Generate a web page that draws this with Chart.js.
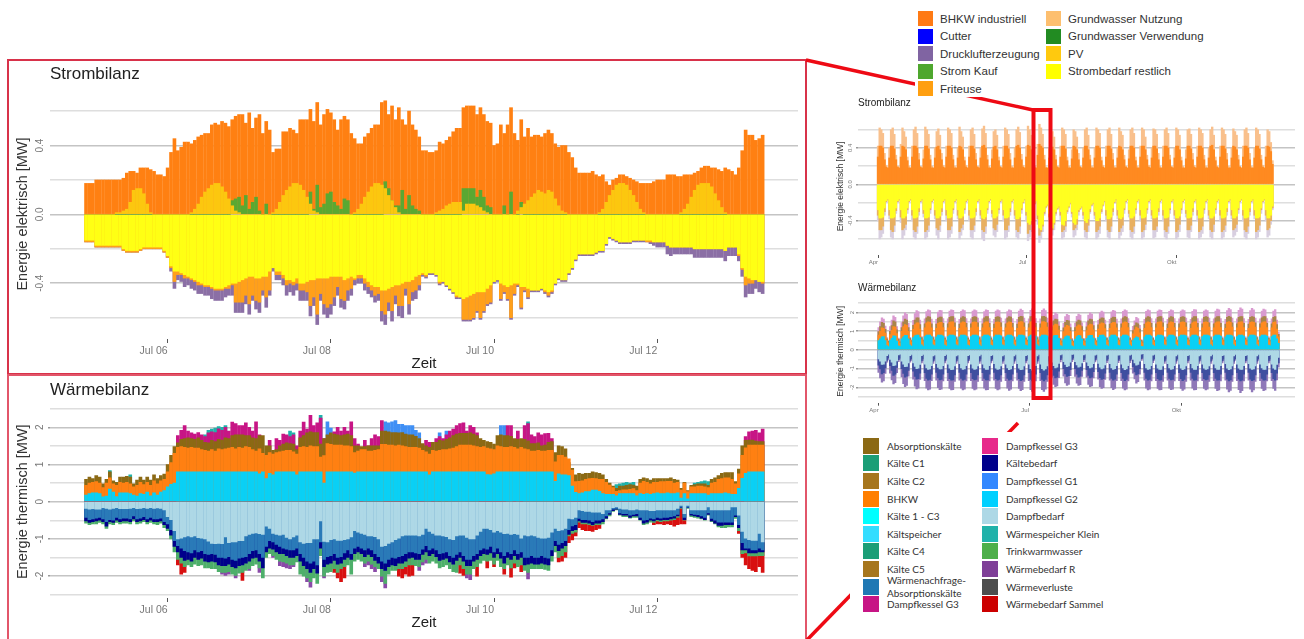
<!DOCTYPE html>
<html lang="de">
<head>
<meta charset="utf-8">
<title>Strombilanz und Wärmebilanz</title>
<script src="https://cdn.jsdelivr.net/npm/chart.js"></script>
<style>
html, body { margin: 0; background: #fff; }
#page { position: relative; width: 1304px; height: 639px; overflow: hidden; filter: blur(.35px); font-family: "Liberation Sans", sans-serif; }
canvas, .frame, svg, .legend { position: absolute; }
.frame { box-sizing: border-box; border: 2px solid #d8324a; }
.legend { background: #fff; display: grid; grid-auto-flow: column; align-items: center; color: #333; }
.legend div { display: flex; align-items: center; white-space: nowrap; }
.legend i { flex: none; display: block; }
#legendStrom { left: 915px; top: 0; width: 292px; height: 97px; box-sizing: border-box; padding: 10px 0 0 3px; grid-template-rows: repeat(5, 17.5px); grid-template-columns: 128px auto; align-content: start; font-size: 11.5px; }
#legendStrom i { width: 15px; height: 15px; margin-right: 7px; }
#legendWaerme { left: 850px; top: 432px; width: 290px; height: 190px; box-sizing: border-box; padding: 5px 0 0 13px; grid-template-rows: repeat(10, 17.6px); grid-template-columns: 119px auto; align-content: start; font-family: Lato, sans-serif; font-size: 10px; }
#legendWaerme i { width: 16px; height: 16px; margin-right: 8px; }
</style>
</head>
<body>
<div id="page">
<div class="frame" style="left:7px;top:59px;width:800px;height:316px"></div>
<div class="frame" style="left:7px;top:374px;width:800px;height:270px;border-color:#e2566a"></div>
<canvas id="mainStrom" width="798" height="314" style="left:8px;top:60px"></canvas>
<canvas id="mainWaerme" width="798" height="263" style="left:8px;top:376px"></canvas>
<canvas id="overStrom" width="470" height="178" style="left:832px;top:92px"></canvas>
<canvas id="overWaerme" width="470" height="139" style="left:832px;top:277px"></canvas>
<svg width="1304" height="639" style="left:0;top:0">
  <g stroke="#ee0a14" fill="none" stroke-width="3.5">
    <line x1="806" y1="60" x2="1033" y2="110"/>
    <rect x="1033.5" y="110" width="17" height="288" stroke-width="4"/>
    <line x1="807" y1="640" x2="1018" y2="423"/>
  </g>
</svg>
<div id="legendStrom" class="legend"></div>
<div id="legendWaerme" class="legend"></div>
</div>
<script>
// all series in 0.01 MW, one row per day (Jul 5 .. Jul 13)
const stromBhkw = [
18,18,18,20,20,20,20,20,20,20,20,21,24,25,25,24,27,27,27,26,25,23,23,22,
27,36,44,37,39,42,42,41,43,45,46,47,47,52,53,52,54,53,51,55,57,58,58,53,
59,50,56,58,47,54,49,36,38,38,48,48,50,49,47,55,55,55,61,54,65,52,58,61,
59,55,49,55,57,55,47,44,41,41,45,47,50,52,52,65,66,58,63,55,62,55,52,60,
52,49,45,37,37,36,36,37,42,41,43,45,48,50,50,62,63,63,63,58,62,58,54,53,
40,41,52,47,52,62,47,43,55,45,50,45,46,46,45,47,49,47,41,39,40,40,36,33,
27,24,24,24,24,25,23,22,23,19,17,20,21,23,23,22,21,20,19,18,18,18,18,19,
20,20,20,23,23,23,22,22,23,23,23,24,25,27,28,28,27,27,26,25,27,26,25,23,
27,37,49,46,46,43,44,46];
const stromKauf = [
0,0,0,0,0,0,0,0,0,0,0,0,0,0,0,0,0,0,0,0,0,0,0,0,
0,0,0,0,0,0,0,0,0,0,0,0,0,0,0,0,0,0,0,8,9,10,5,11,
3,7,10,2,0,6,0,0,0,0,0,0,0,0,0,0,0,0,13,3,17,4,6,12,
13,7,5,3,9,8,0,0,0,0,0,0,0,0,0,0,19,15,8,5,5,14,3,11,
5,3,2,0,0,0,0,0,0,0,0,0,0,0,0,15,15,15,15,10,14,10,5,4,
0,0,0,5,0,13,0,0,7,0,0,0,0,0,0,0,0,0,0,0,0,0,0,0,
0,0,0,0,0,0,0,0,0,0,0,0,0,0,0,0,0,0,0,0,0,0,0,0,
0,0,0,0,0,0,0,0,0,0,0,0,0,0,0,0,0,0,0,0,0,0,0,0,
0,0,0,0,0,0,0,0];
const stromPv = [
0,0,0,0,0,0,0,0,0,1,1,2,3,7,14,15,15,12,6,1,0,0,0,0,
0,0,0,0,0,0,0,1,3,6,10,13,15,17,18,18,16,13,9,5,2,1,0,0,
0,0,0,0,0,0,0,1,3,7,11,14,16,18,18,17,14,10,6,2,1,0,0,0,
0,0,0,0,0,0,0,1,3,6,10,13,16,18,18,17,15,11,8,4,1,0,0,0,
0,0,0,0,0,0,0,1,2,3,5,6,7,7,7,2,6,6,6,5,4,2,1,0,
0,0,0,0,0,0,0,2,4,6,8,10,12,14,13,12,14,13,9,5,2,1,0,0,
0,0,0,0,0,0,0,1,3,7,11,14,17,18,18,17,14,11,7,3,1,0,0,0,
0,0,0,0,0,0,0,1,3,6,10,14,17,18,18,18,16,12,8,4,1,0,0,0,
0,0,0,0,0,0,0,0];
const stromDruckluft = [
16,16,16,19,19,19,19,19,19,19,19,21,22,22,22,22,21,20,20,20,20,20,20,22,
25,33,43,38,39,42,41,43,44,46,46,47,47,49,50,50,50,48,47,47,57,57,57,52,
58,50,55,57,47,54,47,33,38,38,41,47,45,47,44,50,50,50,59,53,64,50,58,60,
58,53,47,54,55,50,47,41,40,40,44,46,48,51,50,62,64,56,62,52,59,60,47,58,
50,49,44,36,37,35,35,36,41,40,42,44,46,49,49,62,62,62,61,57,61,57,53,52,
40,39,50,46,50,61,47,42,55,45,49,45,45,45,44,46,48,46,41,38,39,39,35,32,
27,24,24,24,24,24,23,22,22,18,14,15,16,17,17,17,17,16,16,16,16,16,17,18,
19,19,19,23,24,23,23,23,23,23,23,25,25,25,25,25,25,25,25,25,27,24,24,24,
27,36,48,46,46,43,45,46];
const stromFriteuse = [
16,16,16,19,19,19,19,19,19,19,19,21,22,22,22,22,21,20,20,20,20,20,20,22,
25,31,39,35,35,37,37,38,39,41,41,42,42,43,44,44,44,43,43,41,51,51,51,47,
52,47,50,51,44,48,44,31,35,35,37,41,40,41,40,44,44,45,53,48,58,46,52,54,
52,48,42,49,50,44,43,38,37,37,40,42,44,47,46,56,58,51,56,47,53,53,43,52,
45,44,41,35,36,34,34,35,40,39,41,43,45,48,48,61,61,61,60,56,60,56,52,51,
39,38,49,45,49,60,46,41,54,44,48,44,44,44,43,45,47,45,40,37,38,38,34,31,
26,23,23,23,23,23,22,21,21,17,13,14,15,16,16,16,16,15,15,15,15,16,16,16,
16,16,16,18,19,19,19,19,19,19,19,20,20,20,20,20,20,20,20,20,21,19,19,19,
24,32,41,40,40,38,39,40];
const stromBedarf = [
15,15,15,18,18,18,18,18,18,18,18,20,21,21,21,21,20,19,19,19,19,19,19,21,
24,30,33,33,34,35,36,37,38,39,40,41,41,42,43,43,43,42,41,40,40,39,38,37,
36,36,37,37,36,36,33,31,33,33,35,38,38,39,37,40,40,39,38,38,37,37,37,37,
36,36,36,36,38,37,36,37,35,35,37,39,41,42,42,44,44,43,42,41,41,40,39,39,
38,36,35,34,35,34,34,35,39,39,41,43,45,47,48,49,48,47,46,45,45,45,43,41,
39,38,40,41,42,41,40,40,42,42,43,44,44,44,43,44,45,44,40,37,38,38,34,31,
26,23,23,23,23,23,22,21,21,17,13,14,15,16,16,16,16,15,15,15,15,15,15,16,
16,16,16,18,19,19,19,19,19,19,19,20,20,20,20,20,20,20,20,20,21,19,19,19,
23,31,36,37,38,38,39,39];

const waermeG2 = [
18,22,24,24,22,13,15,34,26,14,24,24,24,22,18,15,22,20,26,16,24,18,26,30,
40,47,50,80,80,80,80,80,80,80,80,80,80,80,80,80,80,80,80,80,80,80,80,80,
80,80,80,75,80,62,76,72,80,80,80,80,80,80,72,80,80,80,80,80,80,80,50,80,
80,80,80,80,80,80,80,77,80,80,80,80,80,80,80,80,80,80,80,80,80,80,80,80,
80,80,80,80,80,72,80,80,80,80,80,80,80,80,80,80,80,80,80,80,80,80,73,72,
75,80,80,80,80,80,80,80,80,80,80,80,80,80,80,80,80,80,55,75,72,72,70,42,
25,22,24,27,27,31,31,28,22,20,20,20,16,22,22,22,22,22,16,22,20,22,20,22,
24,22,22,24,22,22,24,10,22,8,22,22,22,22,22,18,22,22,22,22,24,22,20,20,
36,63,76,80,80,80,80,80];
const waermeBhkw = [
44,50,52,54,50,38,50,64,48,44,52,50,52,48,40,44,52,46,52,44,56,48,56,60,
80,105,130,146,148,146,144,146,144,144,140,138,136,140,136,142,140,142,144,146,142,146,144,148,
146,140,136,142,130,125,132,128,132,134,136,138,138,134,128,146,148,146,150,148,148,120,124,156,
154,152,152,152,150,150,148,132,136,140,140,136,136,138,140,154,154,152,152,150,152,150,148,146,
146,146,144,138,134,128,138,136,138,140,140,142,144,148,152,152,152,152,150,148,146,148,144,142,
140,150,148,146,146,148,146,142,146,142,140,136,136,138,136,136,138,138,107,125,125,120,115,85,
54,55,56,60,62,63,62,60,60,52,45,38,28,30,32,32,33,35,30,50,55,52,48,52,
52,54,54,55,55,50,52,31,50,27,40,40,42,42,40,38,50,52,60,62,64,64,60,48,
75,125,145,152,152,152,152,152];
const waermeAbsorption = [
60,66,62,70,66,48,60,80,56,52,66,66,68,66,48,58,66,58,66,58,72,62,70,74,
100,125,148,158,168,170,172,170,168,172,165,160,158,165,162,168,166,172,170,178,180,180,180,178,
178,172,170,178,178,150,150,138,140,150,155,158,156,155,140,172,178,185,188,186,186,155,170,180,
185,182,180,178,180,182,178,150,150,148,148,150,150,150,150,190,190,188,186,186,185,186,182,180,
180,176,170,156,150,146,160,160,165,164,168,172,178,182,184,184,184,185,182,178,170,165,162,160,
155,178,180,178,178,176,170,168,170,168,164,156,156,158,150,152,160,162,132,150,148,142,105,90,
72,76,74,76,76,80,78,76,72,60,50,42,36,42,42,44,46,45,42,60,64,62,58,62,
62,62,62,62,64,60,58,36,52,30,44,46,48,48,48,44,60,64,70,76,78,78,78,54,
88,150,165,166,166,163,162,162];
const waermeG3 = [
0,0,0,0,0,0,0,0,0,0,0,0,0,0,0,0,0,0,0,0,0,0,0,0,
0,0,0,178,192,205,190,185,182,186,180,175,185,188,186,196,192,200,190,214,210,205,205,212,
200,190,215,180,0,0,165,0,170,165,182,180,175,180,150,190,214,195,232,205,212,225,170,0,
0,188,200,190,200,190,215,170,155,0,165,150,170,180,175,218,0,0,0,0,0,0,0,0,
0,0,0,0,165,160,0,170,175,170,180,190,195,205,210,212,190,205,200,185,0,0,0,0,
0,0,0,0,205,205,0,190,0,205,210,180,175,185,180,183,184,170,0,0,0,0,0,0,
0,0,0,0,0,0,0,0,0,0,0,0,0,0,0,0,0,0,0,0,0,0,0,0,
0,0,0,0,0,0,0,0,0,0,0,0,0,0,0,0,0,0,0,0,0,0,0,0,
0,0,175,188,190,192,185,195];
const waermeG1 = [
0,0,0,0,0,0,0,0,0,0,0,0,0,0,0,0,0,0,0,0,0,0,0,0,
0,0,0,0,0,0,0,0,0,0,0,0,0,0,0,0,0,0,0,0,0,0,0,0,
0,0,0,0,0,0,0,0,0,0,0,0,0,0,0,0,0,0,0,0,0,0,0,215,
198,0,0,0,0,0,0,0,0,0,0,0,0,0,0,0,215,212,215,218,208,208,205,205,
205,192,185,0,0,0,0,0,185,0,190,0,0,0,0,0,0,0,0,0,0,0,0,0,
0,0,205,205,0,0,0,0,0,0,0,0,0,0,0,0,0,0,0,0,0,0,0,0,
0,0,0,0,0,0,0,0,0,0,0,0,0,0,0,0,0,0,0,0,0,0,0,0,
0,0,0,0,0,0,0,0,0,0,0,0,0,0,0,0,0,0,0,0,0,0,0,0,
0,0,0,0,0,0,0,0];
const waermeSpeicher = [
0,0,0,0,0,0,0,84,0,0,0,0,0,72,0,0,0,0,0,0,0,0,0,0,
0,0,0,0,0,0,0,0,0,0,0,180,192,195,198,202,200,205,0,0,0,0,0,0,
0,0,0,0,0,0,0,0,0,0,0,0,190,185,0,0,0,0,0,0,0,232,0,0,
0,0,0,0,0,0,0,0,0,0,0,0,0,0,0,0,0,0,0,0,0,0,0,0,
0,0,0,0,0,0,0,0,0,0,0,0,0,0,0,0,0,0,0,0,0,0,0,0,
0,0,0,0,0,0,0,0,0,0,215,0,0,0,0,0,0,0,0,0,0,0,0,0,
0,0,0,0,0,0,0,0,0,0,0,0,46,48,50,52,50,52,0,0,0,0,0,0,
0,0,0,0,0,0,0,0,0,0,0,50,52,54,56,54,48,0,0,0,0,0,0,0,
0,0,0,0,0,0,0,0];
const waermeDampfbedarf = [
18,20,19,20,20,16,18,20,18,16,19,19,19,18,16,19,18,16,18,16,18,17,18,22,
40,48,78,100,98,95,92,95,92,97,98,100,106,112,113,112,113,95,110,108,108,105,105,92,
88,85,84,86,88,66,72,85,88,90,88,96,100,95,90,108,112,110,110,100,100,52,107,108,
102,100,104,104,102,100,95,78,82,85,88,92,92,94,100,120,118,112,108,102,98,92,90,90,
90,90,92,88,72,80,85,90,90,92,94,100,102,92,90,90,96,100,100,90,80,72,72,75,
82,78,82,86,85,88,86,88,98,90,92,90,92,96,98,98,96,82,72,78,76,72,45,46,
42,22,24,26,26,28,28,28,32,22,22,16,14,18,20,20,22,22,20,22,22,22,24,24,
22,22,22,22,22,22,18,10,32,10,22,22,22,22,22,14,22,22,22,22,22,22,14,14,
36,80,98,102,104,104,85,108];
const waermeNachfrage = [
42,48,46,44,42,46,54,48,50,42,46,44,44,46,38,46,44,40,46,42,46,46,44,54,
60,75,105,118,125,132,135,138,130,135,132,140,142,140,142,150,150,152,148,155,158,152,150,148,
140,132,130,140,150,120,105,108,115,120,125,128,130,130,125,140,150,160,165,160,170,108,155,148,
145,140,150,148,138,130,140,125,120,125,130,125,130,140,148,160,165,155,150,152,148,145,140,135,
135,138,140,128,118,130,125,130,140,138,135,145,150,142,135,145,155,155,145,140,130,125,128,120,
135,125,135,145,135,140,130,140,135,150,150,145,150,150,145,150,152,130,105,115,110,105,75,65,
62,45,48,48,50,54,50,50,46,38,30,20,18,30,32,32,36,34,32,42,50,48,44,46,
42,44,42,42,40,38,34,15,42,15,32,34,35,38,42,30,45,50,55,55,55,55,55,36,
62,110,125,125,130,130,125,130];
const waermeKaelte = [
52,56,54,52,50,54,66,54,56,50,54,52,52,54,46,54,52,48,54,50,54,54,52,62,
72,90,120,135,150,158,155,160,150,155,152,160,162,160,162,170,172,172,168,175,178,172,170,165,
160,152,150,160,178,135,125,128,135,140,140,145,150,150,145,160,172,180,190,180,192,125,175,168,
165,158,168,165,155,150,155,140,135,140,148,142,148,158,165,180,185,175,170,172,165,165,160,152,
150,155,155,142,135,145,140,148,158,155,152,162,168,158,150,160,172,172,160,155,145,140,142,138,
150,140,152,165,150,155,145,155,150,170,168,165,168,168,165,168,170,145,118,132,125,118,88,78,
75,52,56,56,58,62,58,58,54,44,34,24,20,34,36,36,42,38,38,48,58,55,50,52,
48,50,48,48,46,44,38,16,48,16,36,38,40,44,48,34,52,58,64,64,62,62,62,40,
70,130,130,138,138,138,135,135];
const waermeTrink = [
58,62,60,60,56,60,72,60,62,56,60,58,58,60,52,60,58,54,60,56,60,62,58,70,
78,100,135,155,165,175,170,175,168,172,170,178,178,180,180,188,190,190,188,195,198,192,190,185,
180,172,168,178,205,150,140,145,155,160,162,165,170,170,162,195,200,205,215,205,220,145,200,190,
188,180,190,180,175,170,195,160,155,160,165,160,168,175,180,200,220,195,185,185,180,180,175,170,
170,172,175,162,155,165,160,165,178,175,170,180,188,190,170,180,195,195,180,175,165,158,160,158,
168,158,175,180,170,178,165,175,170,185,190,180,180,180,180,182,185,160,135,150,145,135,92,85,
82,55,60,60,62,64,62,62,60,46,38,26,22,36,40,40,44,42,42,50,62,60,55,56,
52,54,52,52,50,48,42,18,50,18,40,42,44,46,50,36,54,60,68,70,70,68,68,45,
78,140,138,146,146,146,145,145];
const waermeSammel = [
0,0,0,0,0,0,0,0,0,0,0,0,0,0,0,0,0,0,0,0,0,0,0,0,
0,0,0,170,195,190,0,0,0,0,0,0,0,0,0,0,0,0,0,0,0,0,212,0,
0,0,0,0,0,0,0,0,0,0,0,0,0,0,0,0,0,0,0,0,0,0,0,0,
0,190,205,215,205,0,0,0,0,0,0,0,0,0,0,0,0,0,0,0,200,205,195,200,
198,0,0,0,0,0,0,0,0,0,0,0,0,0,192,198,0,0,0,200,0,0,178,0,
175,0,0,195,0,203,178,0,188,0,0,0,0,0,0,0,0,0,0,162,160,150,110,103,
92,70,75,78,78,80,75,72,0,0,0,0,0,0,0,0,0,0,0,0,0,0,0,62,
60,60,62,60,62,66,62,60,60,0,0,0,0,0,0,0,0,0,0,0,0,0,0,0,
85,150,170,180,185,188,175,190];
const waermeR = [
0,0,0,0,0,0,0,0,0,0,0,0,0,0,0,0,0,0,0,0,0,0,0,0,
0,0,0,0,0,0,0,0,0,0,0,0,0,0,0,0,195,198,195,0,205,0,0,0,
185,0,0,190,0,0,0,150,0,172,175,178,180,175,0,0,0,215,230,0,0,0,205,0,
0,0,0,0,0,0,0,0,0,0,175,170,180,188,0,215,232,0,0,0,0,0,0,0,
0,0,185,170,165,0,0,0,0,0,0,0,0,0,0,0,205,210,0,0,0,0,0,0,
0,0,0,0,0,0,0,0,0,0,208,0,0,0,0,0,0,0,0,0,0,0,0,0,
0,0,0,0,0,0,0,0,0,0,0,0,0,0,0,0,0,0,0,0,0,0,0,0,
0,0,0,0,0,0,0,0,0,0,0,0,0,0,0,0,0,0,0,0,0,0,0,0,
0,0,0,0,0,0,0,0];

// year overview, one value per day from Apr 1, one row per week
const jahrStromSpitze = [
42,62,60,56,34,21,18, 40,60,62,55,32,20,18, 44,62,58,52,30,20,18, 42,60,63,56,34,20,18,
38,63,60,55,32,20,18, 40,58,61,54,34,21,18, 42,62,60,56,32,20,18, 40,63,58,52,30,21,18,
42,60,62,55,34,20,18, 40,61,64,56,32,20,18, 38,58,60,54,30,20,18, 42,62,60,55,34,20,18,
40,60,63,57,33,21,18, 42,64,60,54,30,20,18, 44,66,62,55,32,19,18, 40,60,58,52,32,20,18,
42,62,60,55,30,20,18, 38,60,58,52,34,20,18, 40,60,62,54,32,20,18, 40,62,60,56,30,21,18,
42,60,62,55,34,20,18, 40,62,58,54,32,20,18, 38,60,62,56,30,20,18, 42,62,60,52,32,21,18,
40,61,60,55,34,20,18, 42,60,62,56,32,20,18, 40,62,60,54,30,20,18, 38,60,61,55,34,21,18,
42,62,60,56,32,20,18, 40,60,63,54,30,20,18, 42,62,60,55,34,20,18, 40,61,58,54,32,20,18,
42,60,62,56,34,20,18, 40,62,60,55,32,21,18, 42,60,58,46,26];
const jahrStromKern = [
30,42,42,40,27,19,18, 29,42,42,39,27,19,18, 30,42,41,38,26,18,18, 30,42,42,40,27,19,18,
28,42,42,39,27,18,18, 29,41,42,38,27,19,18, 30,42,42,40,27,18,18, 29,42,41,38,26,19,18,
30,42,42,39,27,19,18, 29,42,43,40,27,18,18, 28,41,42,38,26,19,18, 30,42,42,39,27,18,18,
29,42,43,40,27,19,18, 30,43,42,38,26,18,18, 32,44,42,40,27,18,18, 29,42,41,38,27,19,18,
30,42,42,39,26,18,18, 28,42,41,38,27,19,18, 29,42,42,38,27,18,18, 29,42,42,40,26,19,18,
30,42,42,39,27,18,18, 29,42,41,38,27,19,18, 28,42,42,40,26,18,18, 30,42,42,38,27,19,18,
29,42,42,39,27,18,18, 30,42,42,40,27,19,18, 29,42,42,38,26,18,18, 28,42,42,39,27,19,18,
30,42,42,40,27,18,18, 29,42,43,38,26,19,18, 30,42,42,39,27,18,18, 29,42,41,38,27,19,18,
30,42,42,40,27,18,18, 29,42,42,39,27,19,18, 30,42,41,36,22];
const jahrStromBedarf = [
28,37,37,36,26,18,16, 28,37,37,36,26,18,16, 28,37,37,35,26,18,16, 28,37,37,36,26,18,16,
28,37,37,36,26,18,16, 28,37,37,35,26,18,16, 28,37,37,36,26,18,16, 28,37,37,35,26,18,16,
28,37,37,36,26,18,16, 28,37,38,36,26,18,16, 28,37,37,35,26,18,16, 28,37,37,36,26,18,16,
28,38,38,36,26,19,16, 30,42,44,40,28,20,18, 34,48,50,44,30,24,22, 32,46,48,42,30,26,24,
30,44,45,40,28,24,20, 30,42,44,38,28,26,24, 30,40,42,38,27,22,20, 30,40,40,37,27,22,18,
28,38,38,36,26,19,16, 28,37,38,36,26,18,16, 28,37,37,35,26,18,16, 28,37,37,36,26,18,16,
28,37,37,36,26,18,16, 28,37,37,36,26,18,16, 28,37,37,35,26,18,16, 28,37,37,36,26,18,16,
28,37,37,36,26,18,16, 28,37,37,35,26,18,16, 28,37,37,36,26,18,16, 28,37,37,35,26,18,16,
28,37,37,36,26,18,16, 28,37,37,36,26,18,16, 28,37,37,34,24];
const jahrStromFriteuse = [
34,50,50,46,30,19,17, 34,50,52,45,29,19,17, 36,50,48,44,28,19,17, 34,50,52,46,30,19,17,
32,52,50,45,28,19,17, 34,48,50,45,30,19,17, 34,50,50,46,28,19,17, 34,52,48,44,28,19,17,
34,50,50,45,30,19,17, 34,50,52,46,28,19,17, 32,48,50,44,28,19,17, 34,50,50,45,30,19,17,
34,50,52,46,28,20,17, 34,54,50,44,30,21,18, 38,56,52,46,32,25,23, 36,50,50,44,32,27,25,
34,52,50,46,30,25,21, 32,50,48,44,30,27,25, 34,50,52,45,30,23,21, 34,52,50,46,30,23,19,
34,50,52,46,30,20,17, 34,52,48,45,28,19,17, 32,50,52,46,28,19,17, 34,52,50,44,28,19,17,
34,50,50,46,30,19,17, 34,50,52,46,28,19,17, 34,52,50,44,28,19,17, 32,50,50,45,30,19,17,
34,52,50,46,28,19,17, 34,50,52,44,28,19,17, 34,52,50,45,30,19,17, 34,50,48,44,28,19,17,
34,50,52,46,30,19,17, 34,52,50,45,28,19,17, 34,50,48,40,26];
const jahrStromDruckluft = [
40,60,58,54,34,20,18, 38,58,60,52,32,20,18, 42,60,56,50,32,20,18, 40,58,60,54,34,20,18,
36,60,58,52,32,20,18, 38,56,60,52,34,20,18, 40,60,58,54,32,20,18, 38,60,56,50,32,20,18,
40,58,60,52,34,20,18, 38,60,62,54,32,20,18, 36,56,58,52,32,20,18, 40,60,58,52,34,20,18,
38,58,60,54,32,21,18, 40,62,58,52,32,22,19, 44,64,60,52,34,26,24, 40,58,56,50,34,28,26,
40,60,58,52,32,26,22, 36,58,56,50,34,28,26, 38,58,60,52,32,24,22, 38,60,58,54,32,24,20,
40,58,60,52,34,21,18, 38,60,56,52,32,20,18, 36,58,60,54,32,20,18, 40,60,58,50,32,20,18,
38,59,58,52,34,20,18, 40,58,60,54,32,20,18, 38,60,58,52,32,20,18, 36,58,59,52,34,20,18,
40,60,58,54,32,20,18, 38,58,60,52,32,20,18, 40,60,58,52,34,20,18, 38,58,56,52,32,20,18,
40,58,60,54,34,20,18, 38,60,58,52,32,20,18, 40,58,56,44,28];
const jahrWaermeG2 = [
50,60,70,72,50,24,18, 52,62,76,74,48,22,18, 60,70,78,78,60,26,20, 66,76,80,80,66,28,20,
72,80,80,80,72,28,22, 70,80,80,80,74,26,20, 72,80,80,80,76,28,22, 70,80,80,80,74,26,22,
72,80,80,80,76,28,20, 72,80,80,80,74,26,22, 70,80,80,80,76,28,22, 72,80,80,80,74,28,20,
70,80,80,80,76,26,22, 72,80,80,80,74,28,20, 72,80,80,80,76,28,22, 62,76,78,78,62,24,18,
58,70,76,74,56,22,18, 58,72,78,76,60,24,18, 62,76,78,78,64,26,20, 68,78,80,80,70,26,20,
70,80,80,80,72,26,22, 72,80,80,80,74,26,20, 50,62,70,66,50,20,18, 70,80,80,80,74,26,20,
72,80,80,80,76,28,22, 70,80,80,80,74,28,20, 72,80,80,80,76,26,22, 70,80,80,80,74,28,22,
72,80,80,80,76,28,20, 72,80,80,80,74,26,22, 70,80,80,80,76,28,20, 72,80,80,80,74,26,22,
70,80,80,80,76,28,20, 72,80,80,80,74,26,22, 72,80,80,60,36];
const jahrWaermeBhkw = [
80,100,118,116,90,50,38, 82,105,125,122,88,48,36, 100,125,135,132,100,52,42, 110,135,145,145,112,56,44,
118,145,150,148,118,56,44, 115,142,148,148,120,54,42, 118,148,150,150,122,56,44, 115,145,150,148,120,54,44,
118,148,150,148,122,56,42, 118,145,150,150,120,54,44, 115,148,150,148,122,56,44, 118,145,150,148,120,56,42,
115,148,152,150,122,54,44, 118,150,152,150,120,56,42, 118,150,152,148,122,56,44, 104,130,138,136,106,50,38,
98,122,132,128,100,46,38, 100,125,134,130,104,48,38, 104,130,138,136,108,50,40, 112,138,145,142,114,52,42,
116,142,148,146,118,52,44, 118,145,150,148,120,52,42, 86,108,122,116,92,44,36, 116,145,150,148,120,52,42,
118,148,150,150,122,56,44, 115,145,150,148,120,56,42, 118,148,150,148,122,54,44, 115,145,150,150,120,56,44,
118,148,150,148,122,56,42, 118,145,150,150,120,54,44, 115,148,152,148,122,56,42, 118,148,150,150,120,54,44,
115,148,150,148,122,56,42, 118,145,150,150,120,54,44, 118,148,150,112,70];
const jahrWaermeAbsorption = [
98,125,148,142,110,60,46, 100,130,155,150,108,58,44, 120,150,165,160,120,62,50, 132,160,172,172,135,66,52,
140,172,178,176,140,66,52, 138,170,176,176,142,64,50, 140,175,178,178,145,66,52, 138,172,178,176,142,64,52,
140,175,178,176,145,66,50, 140,172,178,178,142,64,52, 138,175,178,176,145,66,52, 140,172,178,176,142,66,50,
138,175,180,178,145,64,52, 140,178,180,178,142,66,50, 140,178,180,176,145,66,52, 124,155,165,162,128,60,46,
118,148,158,155,120,56,46, 120,150,160,156,125,58,46, 124,155,165,162,130,60,48, 134,165,172,170,136,62,50,
138,170,176,174,140,62,52, 140,172,178,176,142,62,50, 104,130,145,140,112,52,44, 138,172,178,176,142,62,50,
140,175,178,178,145,66,52, 138,172,178,176,142,66,50, 140,175,178,176,145,64,52, 138,172,178,178,142,66,52,
140,175,178,176,145,66,50, 140,172,178,178,142,64,52, 138,175,180,176,145,66,50, 140,175,178,178,142,64,52,
138,175,178,176,145,66,50, 140,172,178,178,142,64,52, 140,175,178,135,84];
const jahrWaermeSpitze = [
120,150,172,165,128,66,50, 125,160,182,175,125,64,48, 146,182,198,190,142,68,54, 158,195,210,205,160,72,56,
166,205,215,210,165,72,56, 164,202,212,210,168,70,54, 166,208,215,212,170,72,56, 164,206,214,210,168,70,56,
166,208,214,210,170,72,54, 166,205,215,212,168,70,56, 164,208,214,210,170,72,56, 166,205,215,210,168,72,54,
164,208,218,212,170,70,56, 166,212,220,214,168,72,54, 166,212,220,210,170,72,56, 148,185,198,192,150,64,50,
142,178,190,185,140,62,50, 144,180,192,186,145,62,50, 148,186,198,192,152,64,52, 158,198,208,202,160,68,54,
164,204,212,208,165,68,56, 166,206,214,210,168,68,54, 126,155,175,168,132,56,48, 164,206,214,210,168,68,54,
166,208,215,212,170,72,56, 164,206,214,210,168,72,54, 166,208,215,210,170,70,56, 164,206,216,214,168,72,56,
166,208,214,210,170,72,54, 166,208,218,214,168,70,56, 164,210,222,216,170,72,54, 166,212,225,218,168,70,56,
164,210,222,214,170,72,54, 166,208,218,214,168,70,56, 166,208,216,160,96];
const jahrWaermeBedarf = [
48,60,78,76,60,30,22, 50,66,84,82,58,26,22, 60,76,90,88,70,30,24, 70,88,100,98,78,30,24,
76,96,104,102,84,32,26, 74,94,102,102,84,30,24, 76,98,106,104,86,32,26, 74,96,104,102,84,30,26,
76,98,104,102,86,32,24, 76,96,104,104,84,30,26, 74,98,104,102,86,32,26, 76,96,106,102,84,32,24,
74,98,106,104,86,30,26, 76,100,108,104,84,32,24, 76,100,108,102,86,32,26, 66,84,96,92,72,26,22,
62,78,90,86,66,24,22, 62,80,92,88,70,26,22, 66,84,96,92,74,28,24, 72,92,102,98,80,28,24,
74,96,104,100,84,28,26, 76,96,106,102,84,28,24, 50,70,82,78,60,22,20, 74,96,104,102,84,28,24,
76,98,104,104,86,32,26, 74,96,104,102,84,32,24, 76,98,106,102,86,30,26, 74,96,104,104,84,32,26,
76,98,104,102,86,32,24, 76,96,104,104,84,30,26, 74,98,106,102,86,32,24, 76,98,104,104,84,30,26,
74,98,104,102,86,32,24, 76,96,104,104,84,30,26, 76,98,104,78,40];
const jahrWaermeNachfrage = [
82,102,128,122,96,56,42, 84,110,136,130,94,52,42, 100,126,145,140,110,56,46, 114,142,156,154,124,58,46,
122,152,162,158,130,60,48, 120,150,160,158,130,58,46, 122,154,162,160,134,60,48, 120,152,162,158,130,58,48,
122,154,160,158,134,60,46, 122,152,160,160,130,58,48, 120,154,162,158,134,60,48, 122,152,162,158,130,60,46,
120,154,164,160,134,58,48, 122,158,166,162,130,60,46, 122,158,166,158,134,60,48, 106,136,150,146,114,52,42,
100,128,142,138,106,50,42, 100,130,146,140,110,52,42, 106,136,150,146,116,54,44, 116,148,158,154,124,56,46,
120,152,162,156,130,56,48, 122,152,164,158,130,56,46, 90,118,134,128,100,46,40, 120,152,162,158,130,56,46,
122,154,162,160,134,60,48, 120,152,160,158,130,60,46, 122,154,164,158,134,58,48, 120,152,162,160,130,60,48,
122,154,160,158,134,60,46, 122,152,162,160,130,58,48, 120,156,166,160,134,60,46, 122,156,166,162,130,58,48,
120,156,164,160,134,60,46, 122,152,162,160,130,58,48, 122,154,162,124,70];
const jahrWaermeSpitzeUnten = [
120,150,172,165,125,66,50, 124,160,182,175,122,62,48, 144,180,196,190,140,66,54, 156,194,208,204,158,70,56,
164,204,214,210,164,72,56, 162,202,212,210,166,70,54, 164,206,214,212,168,72,56, 162,204,214,210,166,70,56,
164,206,214,210,168,72,54, 164,204,214,212,166,70,56, 162,206,214,210,168,72,56, 164,204,216,210,166,72,54,
162,206,218,212,168,70,56, 164,212,222,214,166,72,54, 164,212,222,210,168,72,56, 146,184,196,192,148,64,50,
140,176,190,184,138,62,50, 142,178,190,186,142,62,50, 146,184,196,192,150,64,52, 156,196,206,202,158,68,54,
162,202,212,206,164,68,56, 164,204,214,210,166,68,54, 124,155,178,170,130,56,48, 162,204,214,210,166,68,54,
164,206,214,212,168,72,56, 162,204,212,210,166,72,54, 164,206,216,210,168,70,56, 162,204,214,212,166,72,56,
164,206,214,210,168,72,54, 164,206,218,214,166,70,56, 162,210,224,216,168,72,54, 164,212,228,218,166,70,56,
162,210,224,214,168,72,54, 164,206,218,214,166,70,56, 164,206,216,160,92];

const tagesTicks = [24, 72, 120, 168];
const tagesLabels = ["Jul 06", "Jul 08", "Jul 10", "Jul 12"];
const jahrTicks = [0, 91, 183];
const jahrLabels = ["Apr", "Jul", "Okt"];
const stromTicks = [-0.6, -0.4, -0.2, 0, 0.2, 0.4, 0.6];
const stromTickLabels = { "-0.4": "-0.4", "0": "0.0", "0.4": "0.4" };
const waermeTicks = [-2.5, -2, -1.5, -1, -0.5, 0, 0.5, 1, 1.5, 2, 2.5];
const waermeTickLabels = { "-2": "-2", "-1": "-1", "0": "0", "1": "1", "2": "2" };

const legendStromNamen = ["BHKW industriell", "Cutter", "Drucklufterzeugung", "Strom Kauf", "Friteuse", "Grundwasser Nutzung", "Grundwasser Verwendung", "PV", "Strombedarf restlich"];
const legendStromFarben = ["#ff7a14", "#0000ff", "#8064a2", "#4ea72e", "#ff9f10", "#fdbf6f", "#228b22", "#ffc90e", "#ffff00"];
const legendWaermeNamen = ["Absorptionskälte", "Kälte C1", "Kälte C2", "BHKW", "Kälte 1 - C3", "Kältspeicher", "Kälte C4", "Kälte C5", "Wärmenachfrage-<br>Absorptionskälte", "Dampfkessel G3", "Dampfkessel G3", "Kältebedarf", "Dampfkessel G1", "Dampfkessel G2", "Dampfbedarf", "Wärmespeicher Klein", "Trinkwarmwasser", "Wärmebedarf R", "Wärmeverluste", "Wärmebedarf Sammel"];
const legendWaermeFarben = ["#8b6914", "#1b9e77", "#a6761d", "#ff7f00", "#00ffff", "#33ddff", "#1b9e77", "#a6761d", "#1f78b4", "#c71585", "#e7298a", "#00008b", "#3388ff", "#00d0ff", "#add8e6", "#20b2aa", "#4daf4a", "#7f3f98", "#4d4d4d", "#cc0000"];

const FONT = "'Liberation Sans', sans-serif";
const hoch = a => a.map(v => v / 100);
const tief = a => a.map(v => -v / 100);

function fillLegend(id, namen, farben) {
    const box = document.getElementById(id);
    namen.forEach((name, i) => {
        const row = document.createElement("div");
        row.innerHTML = `<i style="background:${farben[i]}"></i><span>${name}</span>`;
        box.appendChild(row);
    });
    if (id === "legendWaerme") box.children[8].querySelector("span").style.lineHeight = "13px";
}

// bars overlap (grouped: false), first dataset in the list is drawn on top
function drawBalance(id, c) {
    const labels = c.serien[0].data.map((_, i) => i);
    new Chart(document.getElementById(id), {
        type: "bar",
        data: {
            labels: labels,
            datasets: c.serien.map(s => ({
                data: s.data,
                backgroundColor: s.farbe,
                grouped: false,
                barThickness: c.balken,
                borderWidth: 0
            }))
        },
        options: {
            responsive: false,
            animation: false,
            events: [],
            layout: { padding: { right: c.rechts } },
            plugins: {
                legend: { display: false },
                tooltip: { enabled: false },
                title: {
                    display: true,
                    text: c.titel,
                    align: "start",
                    fullSize: false,
                    color: "#222",
                    font: { family: FONT, size: c.titelGroesse, weight: "normal" },
                    padding: c.titelPadding
                }
            },
            scales: {
                x: {
                    type: "linear",
                    offset: false,
                    min: c.xMin,
                    max: c.xMax,
                    afterBuildTicks: s => { s.ticks = c.xTicks.map(v => ({ value: v })); },
                    afterFit: s => { s.height = c.xHoehe; },
                    border: { display: false },
                    grid: { offset: false, drawOnChartArea: false, tickLength: c.tick, tickColor: "#555" },
                    ticks: {
                        align: "end",
                        autoSkip: false,
                        maxRotation: 0,
                        padding: c.xPad,
                        color: "#777",
                        font: { family: FONT, size: c.xFont },
                        callback: v => c.xLabels[c.xTicks.indexOf(v)]
                    },
                    title: c.xTitel ? {
                        display: true,
                        text: c.xTitel,
                        color: "#222",
                        font: { family: FONT, size: 15 },
                        padding: { top: 0, bottom: c.xTitelPad }
                    } : { display: false }
                },
                y: {
                    min: c.yMin,
                    max: c.yMax,
                    afterBuildTicks: s => { s.ticks = c.yTicks.map(v => ({ value: v })); },
                    afterCalculateLabelRotation: s => { s.labelRotation = 90; },
                    afterFit: s => { s.width = c.yBreite; },
                    border: { display: false },
                    grid: {
                        lineWidth: 1.5,
                        tickLength: c.yTick,
                        color: t => c.yLabels[String(t.tick.value)] ? "#c4c4c4" : "#dedede",
                        tickColor: t => c.yLabels[String(t.tick.value)] ? "#999" : "rgba(0,0,0,0)"
                    },
                    ticks: {
                        crossAlign: "center",
                        autoSkip: false,
                        padding: c.yPad,
                        color: "#777",
                        font: { family: FONT, size: c.yFont },
                        callback: v => c.yLabels[String(v)] || ""
                    },
                    title: {
                        display: true,
                        text: c.yTitel,
                        color: "#333",
                        font: { family: FONT, size: c.yTitelGroesse },
                        padding: { top: c.yTitelPad, bottom: 0 }
                    }
                }
            }
        }
    });
}

fillLegend("legendStrom", legendStromNamen, legendStromFarben);
fillLegend("legendWaerme", legendWaermeNamen, legendWaermeFarben);

const grossStunden = { xMin: -10.6, xMax: 209.4, xTicks: tagesTicks, xLabels: tagesLabels, balken: 3, rechts: 8, tick: 4, xFont: 10.5, xPad: 2, yBreite: 42, yFont: 10, yTitelGroesse: 14.5, yTitelPad: 6, titelGroesse: 17, xTitel: "Zeit" };

drawBalance("mainStrom", Object.assign({}, grossStunden, {
    titel: "Strombilanz",
    titelPadding: { top: 4, bottom: 4.6 },
    xHoehe: 35, xTitelPad: 1.5,
    yMin: -0.724, yMax: 0.7285, yTicks: stromTicks, yLabels: stromTickLabels,
    yTick: 0, yPad: 1,
    yTitel: "Energie elektrisch [MW]",
    serien: [
        { data: hoch(stromPv), farbe: "#fcc70f" },
        { data: hoch(stromKauf), farbe: "#5aa832" },
        { data: hoch(stromBhkw), farbe: "#ff8012" },
        { data: tief(stromBedarf), farbe: "#ffff14" },
        { data: tief(stromFriteuse), farbe: "#ffa01a" },
        { data: tief(stromDruckluft), farbe: "#8b6fa5" }
    ]
}));

drawBalance("mainWaerme", Object.assign({}, grossStunden, {
    titel: "Wärmebilanz",
    titelPadding: { top: 4, bottom: 5 },
    xHoehe: 41, xTitelPad: 7.5,
    yMin: -2.59, yMax: 2.59, yTicks: waermeTicks, yLabels: waermeTickLabels,
    yTick: 2, yPad: 3,
    yTitel: "Energie thermisch [MW]",
    serien: [
        { data: hoch(waermeG2), farbe: "#0ad0f5" },
        { data: hoch(waermeBhkw), farbe: "#ff8012" },
        { data: hoch(waermeAbsorption), farbe: "#8b6914" },
        { data: hoch(waermeG3), farbe: "#c71585" },
        { data: hoch(waermeG1), farbe: "#3f8ff5" },
        { data: hoch(waermeSpeicher), farbe: "#20b2aa" },
        { data: tief(waermeDampfbedarf), farbe: "#aed8e6" },
        { data: tief(waermeNachfrage), farbe: "#2a7ab8" },
        { data: tief(waermeKaelte), farbe: "#00008b" },
        { data: tief(waermeTrink), farbe: "#4daf6a" },
        { data: tief(waermeSammel), farbe: "#d81010" },
        { data: tief(waermeR), farbe: "#8a4aa8" }
    ]
}));

const kleinJahr = { xTicks: jahrTicks, xLabels: jahrLabels, balken: 1.7, rechts: 7, tick: 3, xFont: 6, xPad: 1, yBreite: 26, yFont: 6, yTitelGroesse: 8.5, yTitelPad: 4, titelGroesse: 10 };

drawBalance("overStrom", Object.assign({}, kleinJahr, {
    titel: "Strombilanz",
    titelPadding: { top: 5, bottom: 9 },
    xMin: -12.3, xMax: 255.8, xHoehe: 15,
    yMin: -0.777, yMax: 0.729, yTicks: stromTicks, yLabels: stromTickLabels,
    yTick: 2, yPad: 0,
    yTitel: "Energie elektrisch [MW]",
    serien: [
        { data: hoch(jahrStromKern), farbe: "#ff8a20" },
        { data: hoch(jahrStromSpitze), farbe: "#f9c08c" },
        { data: tief(jahrStromBedarf), farbe: "#ffff20" },
        { data: tief(jahrStromFriteuse), farbe: "#e8b060" },
        { data: tief(jahrStromDruckluft), farbe: "#d8cfe0" }
    ]
}));

drawBalance("overWaerme", Object.assign({}, kleinJahr, {
    titel: "Wärmebilanz",
    titelPadding: { top: 5, bottom: 6 },
    xMin: -12.5, xMax: 252, xHoehe: 13.3,
    yMin: -2.82, yMax: 2.67, yTicks: waermeTicks, yLabels: waermeTickLabels,
    yTick: 2, yPad: 1,
    yTitel: "Energie thermisch [MW]",
    serien: [
        { data: hoch(jahrWaermeG2), farbe: "#0ad0f5" },
        { data: hoch(jahrWaermeBhkw), farbe: "#ff8a20" },
        { data: hoch(jahrWaermeAbsorption), farbe: "#a8854a" },
        { data: hoch(jahrWaermeSpitze), farbe: "#d99ad0" },
        { data: tief(jahrWaermeBedarf), farbe: "#aed8e6" },
        { data: tief(jahrWaermeNachfrage), farbe: "#3f4fa0" },
        { data: tief(jahrWaermeSpitzeUnten), farbe: "#8f78b8" }
    ]
}));
</script>
</body>
</html>
